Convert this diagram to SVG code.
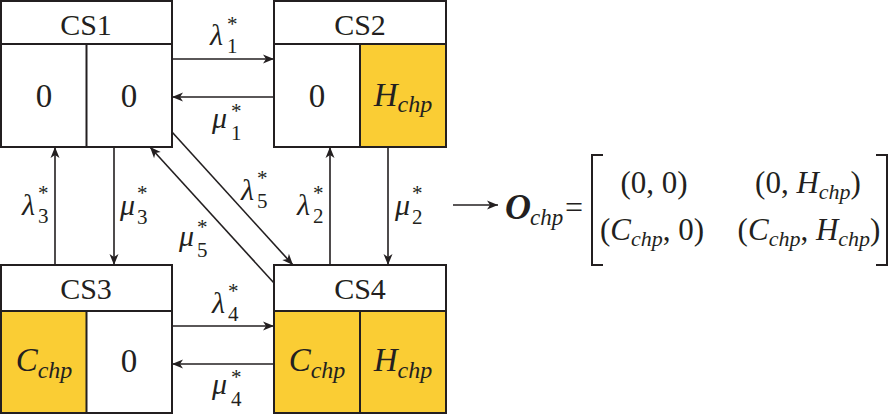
<svg xmlns="http://www.w3.org/2000/svg" width="893" height="415" viewBox="0 0 893 415">
<style>
  text { font-family: "Liberation Serif", "Times New Roman", serif; fill: #231f20; }
  .box { fill: none; stroke: #231f20; stroke-width: 2; }
  .cell { fill: #FACD34; }
  .div { stroke: #231f20; stroke-width: 2; }
  .title { font-size: 30px; text-anchor: middle; }
  .val { font-size: 33px; text-anchor: middle; }
  .i { font-style: italic; }
  .sub { font-size: 24px; font-style: italic; }
  .lab { font-size: 30px; }
  .lab .g { font-style: italic; }
  .lab .s { font-size: 21px; }
  .conn line { stroke: #231f20; stroke-width: 1.6; marker-end: url(#ah); }
  .mx { font-size: 31px; text-anchor: middle; }
  .mx .sb { font-size: 22px; font-style: italic; }
</style>
<defs>
  <marker id="ah" markerUnits="userSpaceOnUse" markerWidth="14" markerHeight="12" viewBox="-12 -6 14 12" refX="0" refY="0" orient="auto">
    <path d="M0,0 L-11,-4.5 L-8,0 L-11,4.5 Z" fill="#231f20"/>
  </marker>
</defs>

<g id="CS1">
  <rect class="box" x="1" y="1" width="171" height="146"/>
  <line class="div" x1="1" y1="44" x2="172" y2="44"/>
  <line class="div" x1="86.5" y1="44" x2="86.5" y2="147"/>
  <text class="title" x="86" y="35">CS1</text>
  <text class="val" x="44" y="107">0</text>
  <text class="val" x="129" y="107">0</text>
</g>

<g id="CS2">
  <rect class="cell" x="360" y="44" width="86" height="103"/>
  <rect class="box" x="274" y="1" width="172" height="146"/>
  <line class="div" x1="274" y1="44" x2="446" y2="44"/>
  <line class="div" x1="360" y1="44" x2="360" y2="147"/>
  <text class="title" x="360" y="35">CS2</text>
  <text class="val" x="317" y="107">0</text>
  <text class="val" x="403" y="106"><tspan class="i">H</tspan><tspan class="sub" dy="6">chp</tspan></text>
</g>

<g id="CS3">
  <rect class="cell" x="1" y="311" width="85.5" height="102"/>
  <rect class="box" x="1" y="265" width="171" height="148"/>
  <line class="div" x1="1" y1="311" x2="172" y2="311"/>
  <line class="div" x1="86.5" y1="311" x2="86.5" y2="413"/>
  <text class="title" x="86" y="299">CS3</text>
  <text class="val" x="44" y="371"><tspan class="i">C</tspan><tspan class="sub" dy="7">chp</tspan></text>
  <text class="val" x="129" y="372">0</text>
</g>

<g id="CS4">
  <rect class="cell" x="274" y="311" width="172" height="102"/>
  <rect class="box" x="274" y="265" width="172" height="148"/>
  <line class="div" x1="274" y1="311" x2="446" y2="311"/>
  <line class="div" x1="360" y1="311" x2="360" y2="413"/>
  <text class="title" x="360" y="299">CS4</text>
  <text class="val" x="317" y="371"><tspan class="i">C</tspan><tspan class="sub" dy="7">chp</tspan></text>
  <text class="val" x="403" y="371"><tspan class="i">H</tspan><tspan class="sub" dy="7">chp</tspan></text>
</g>

<g id="connectors" class="conn">
  <line x1="172" y1="59" x2="274" y2="59"/>
  <line x1="274" y1="97" x2="172" y2="97"/>
  <line x1="172" y1="326" x2="274" y2="326"/>
  <line x1="274" y1="364" x2="172" y2="364"/>
  <line x1="55" y1="265" x2="55" y2="147"/>
  <line x1="114" y1="147" x2="114" y2="265"/>
  <line x1="330" y1="265" x2="330" y2="147"/>
  <line x1="388" y1="147" x2="388" y2="265"/>
  <line x1="172" y1="132" x2="293" y2="265"/>
  <line x1="274" y1="283" x2="150" y2="147"/>
  <line x1="453" y1="205" x2="498" y2="205"/>
</g>

<g id="labels">
  <text class="lab"><tspan class="g" x="210" y="45">λ</tspan><tspan class="s" x="227" y="53">1</tspan><tspan class="s" x="227" y="31">*</tspan></text>
  <text class="lab"><tspan class="g" x="212" y="128">μ</tspan><tspan class="s" x="231" y="140">1</tspan><tspan class="s" x="231" y="118">*</tspan></text>
  <text class="lab"><tspan class="g" x="212" y="313">λ</tspan><tspan class="s" x="228" y="321">4</tspan><tspan class="s" x="228" y="298">*</tspan></text>
  <text class="lab"><tspan class="g" x="212" y="394">μ</tspan><tspan class="s" x="231" y="406">4</tspan><tspan class="s" x="231" y="384">*</tspan></text>
  <text class="lab"><tspan class="g" x="22" y="215">λ</tspan><tspan class="s" x="38" y="223">3</tspan><tspan class="s" x="38" y="200">*</tspan></text>
  <text class="lab"><tspan class="g" x="120" y="215">μ</tspan><tspan class="s" x="137" y="224">3</tspan><tspan class="s" x="137" y="200">*</tspan></text>
  <text class="lab"><tspan class="g" x="241" y="200">λ</tspan><tspan class="s" x="257" y="208">5</tspan><tspan class="s" x="257" y="185">*</tspan></text>
  <text class="lab"><tspan class="g" x="179" y="246">μ</tspan><tspan class="s" x="197" y="257">5</tspan><tspan class="s" x="197" y="234">*</tspan></text>
  <text class="lab"><tspan class="g" x="297" y="215">λ</tspan><tspan class="s" x="313" y="223">2</tspan><tspan class="s" x="313" y="200">*</tspan></text>
  <text class="lab"><tspan class="g" x="395" y="215">μ</tspan><tspan class="s" x="412" y="224">2</tspan><tspan class="s" x="412" y="200">*</tspan></text>
</g>

<g id="matrix">
  <text x="505" y="219" font-size="36" font-weight="bold" font-style="italic">O</text>
  <text x="530" y="225" font-size="23" font-style="italic">chp</text>
  <text x="565" y="218" font-size="32">=</text>
  <path d="M603,155 H592 V265 H603" fill="none" stroke="#231f20" stroke-width="2"/>
  <path d="M876,155 H887 V265 H876" fill="none" stroke="#231f20" stroke-width="2"/>
  <text class="mx" x="654" y="193">(0, 0)</text>
  <text class="mx" x="808" y="193">(0, <tspan class="i">H</tspan><tspan class="sb" dy="6">chp</tspan><tspan dy="-6">)</tspan></text>
  <text class="mx" x="652" y="240">(<tspan class="i">C</tspan><tspan class="sb" dy="6">chp</tspan><tspan dy="-6">, 0)</tspan></text>
  <text class="mx" x="809" y="240">(<tspan class="i">C</tspan><tspan class="sb" dy="6">chp</tspan><tspan dy="-6">, </tspan><tspan class="i">H</tspan><tspan class="sb" dy="6">chp</tspan><tspan dy="-6">)</tspan></text>
</g>
</svg>
